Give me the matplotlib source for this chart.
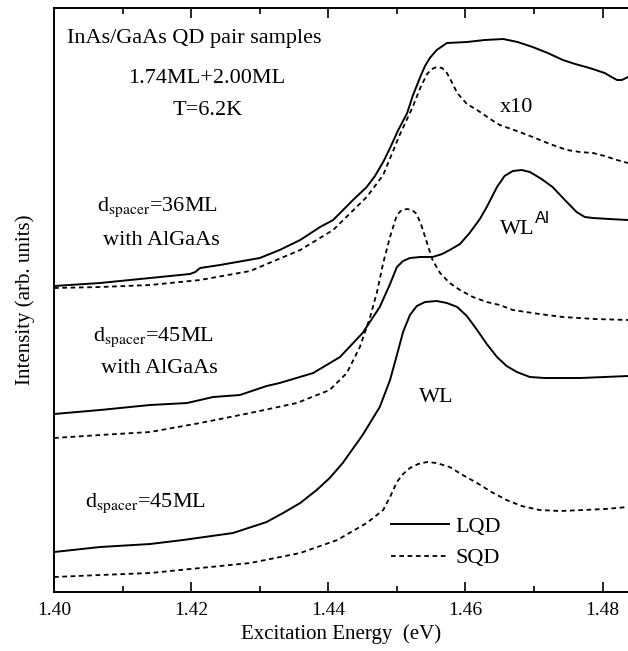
import numpy as np
import matplotlib
matplotlib.use("Agg")
import matplotlib.pyplot as plt
from matplotlib.ticker import MultipleLocator

plt.rcParams['font.family'] = ['Liberation Serif', 'DejaVu Serif']
plt.rcParams['mathtext.fontset'] = 'stix'

# d_spacer = 36ML with AlGaAs (top pair, SQD x10)
e_lqd36 = [1.4000, 1.4067, 1.4140, 1.4198, 1.4206, 1.4213, 1.4242, 1.4300, 1.4329, 1.4359,
           1.4388, 1.4407, 1.4436, 1.4456, 1.4468, 1.4480, 1.4490, 1.4502, 1.4515, 1.4523,
           1.4534, 1.4541, 1.4548, 1.4558, 1.4573, 1.4602, 1.4628, 1.4655, 1.4676, 1.4698,
           1.4720, 1.4742, 1.4760, 1.4781, 1.4803, 1.4813, 1.4821, 1.4828, 1.4837]
i_lqd36 = [3.06, 3.09, 3.14, 3.18, 3.20, 3.24, 3.27, 3.34, 3.42, 3.52,
           3.65, 3.72, 3.92, 4.05, 4.16, 4.30, 4.44, 4.62, 4.79, 4.96,
           5.15, 5.26, 5.34, 5.42, 5.49, 5.50, 5.52, 5.53, 5.50, 5.45,
           5.39, 5.32, 5.28, 5.24, 5.19, 5.15, 5.12, 5.12, 5.15]
e_sqd36 = [1.4000, 1.4067, 1.4140, 1.4213, 1.4286, 1.4359, 1.4407, 1.4456, 1.4480, 1.4504,
           1.4523, 1.4534, 1.4544, 1.4551, 1.4558, 1.4566, 1.4573, 1.4580, 1.4588, 1.4602,
           1.4617, 1.4636, 1.4650, 1.4675, 1.4698, 1.4723, 1.4748, 1.4767, 1.4786, 1.4803,
           1.4821, 1.4837]
i_sqd36 = [3.04, 3.05, 3.07, 3.12, 3.21, 3.42, 3.62, 3.95, 4.17, 4.57,
           4.85, 5.04, 5.18, 5.23, 5.25, 5.24, 5.19, 5.10, 4.99, 4.88,
           4.82, 4.73, 4.67, 4.61, 4.55, 4.48, 4.42, 4.40, 4.39, 4.36,
           4.32, 4.29]

# d_spacer = 45ML with AlGaAs (middle pair)
e_lqd45al = [1.4000, 1.4067, 1.4140, 1.4194, 1.4232, 1.4271, 1.4310, 1.4329, 1.4378, 1.4417,
             1.4450, 1.4475, 1.4490, 1.4500, 1.4509, 1.4519, 1.4534, 1.4552, 1.4566, 1.4577,
             1.4592, 1.4606, 1.4621, 1.4631, 1.4646, 1.4657, 1.4669, 1.4682, 1.4694, 1.4711,
             1.4727, 1.4745, 1.4762, 1.4774, 1.4786, 1.4810, 1.4837]
i_lqd45al = [1.78, 1.82, 1.87, 1.89, 1.95, 1.97, 2.06, 2.09, 2.19, 2.35,
             2.59, 2.85, 3.08, 3.25, 3.31, 3.34, 3.35, 3.35, 3.38, 3.42,
             3.48, 3.59, 3.73, 3.85, 4.05, 4.16, 4.21, 4.22, 4.20, 4.13,
             4.05, 3.92, 3.80, 3.75, 3.74, 3.73, 3.72]
e_sqd45al = [1.4000, 1.4067, 1.4140, 1.4213, 1.4286, 1.4354, 1.4402, 1.4427, 1.4446, 1.4461,
             1.4471, 1.4480, 1.4490, 1.4500, 1.4507, 1.4515, 1.4522, 1.4529, 1.4536, 1.4544,
             1.4552, 1.4563, 1.4577, 1.4592, 1.4611, 1.4631, 1.4650, 1.4669, 1.4708, 1.4742,
             1.4789, 1.4837]
i_sqd45al = [1.54, 1.57, 1.60, 1.69, 1.79, 1.89, 2.02, 2.19, 2.45, 2.75,
             3.00, 3.29, 3.55, 3.77, 3.82, 3.83, 3.82, 3.78, 3.66, 3.49,
             3.32, 3.19, 3.09, 3.02, 2.95, 2.90, 2.87, 2.82, 2.78, 2.75,
             2.73, 2.72]

# d_spacer = 45ML (bottom pair)
e_lqd45 = [1.4000, 1.4067, 1.4140, 1.4188, 1.4261, 1.4310, 1.4334, 1.4359, 1.4383, 1.4402,
           1.4421, 1.4450, 1.4475, 1.4490, 1.4500, 1.4509, 1.4519, 1.4529, 1.4541, 1.4558,
           1.4573, 1.4588, 1.4602, 1.4617, 1.4631, 1.4646, 1.4660, 1.4675, 1.4694, 1.4716,
           1.4767, 1.4837]
i_lqd45 = [0.40, 0.45, 0.48, 0.52, 0.59, 0.70, 0.79, 0.89, 1.02, 1.14,
           1.29, 1.57, 1.85, 2.12, 2.37, 2.60, 2.77, 2.86, 2.90, 2.91,
           2.89, 2.85, 2.76, 2.62, 2.48, 2.35, 2.26, 2.20, 2.15, 2.14,
           2.14, 2.16]
e_sqd45 = [1.4000, 1.4067, 1.4140, 1.4213, 1.4286, 1.4359, 1.4413, 1.4456, 1.4480, 1.4490,
           1.4500, 1.4509, 1.4519, 1.4531, 1.4544, 1.4558, 1.4577, 1.4596, 1.4617, 1.4638,
           1.4660, 1.4682, 1.4708, 1.4738, 1.4771, 1.4803, 1.4837]
i_sqd45 = [0.15, 0.17, 0.19, 0.24, 0.29, 0.39, 0.52, 0.69, 0.82, 0.95,
           1.10, 1.18, 1.24, 1.28, 1.30, 1.29, 1.25, 1.17, 1.09, 1.00,
           0.92, 0.86, 0.82, 0.81, 0.82, 0.83, 0.85]

xticks = [1.40, 1.42, 1.44, 1.46, 1.48]
xticklabels = ['1.40', '1.42', '1.44', '1.46', '1.48']

fig = plt.figure(figsize=(6.28, 6.51), dpi=100)
ax = fig.add_axes([0.086, 0.0906, 0.914, 0.8971])

solid = dict(color='black', lw=1.4, ls='-')
dash = dict(color='black', lw=1.3, ls=(0, (2.6, 2.0)))

ax.plot(e_lqd36, i_lqd36, **solid)
ax.plot(e_sqd36, i_sqd36, **dash)
ax.plot(e_lqd45al, i_lqd45al, **solid)
ax.plot(e_sqd45al, i_sqd45al, **dash)
l1, = ax.plot(e_lqd45, i_lqd45, **solid)
l2, = ax.plot(e_sqd45, i_sqd45, **dash)

ax.set_xlim(1.40, 1.4837)
ax.set_ylim(0, 5.84)
ax.set_xticks(xticks)
ax.set_xticklabels(xticklabels)
ax.xaxis.set_minor_locator(MultipleLocator(0.01))
ax.set_yticks([])
ax.tick_params(axis='x', which='both', direction='in', top=True, labelsize=14, pad=7)
ax.tick_params(axis='x', which='major', length=7, width=1.2)
ax.tick_params(axis='x', which='minor', length=4, width=1.2)
ax.spines['right'].set_visible(False)
for s in ['left', 'bottom', 'top']:
    ax.spines[s].set_linewidth(1.4)

ax.set_xlabel('Excitation Energy  (eV)', fontsize=15, labelpad=4)
ax.set_ylabel('Intensity (arb. units)', fontsize=15, labelpad=14)

fs = 16
ax.text(1.4019, 5.54, 'InAs/GaAs QD pair samples', fontsize=fs, ha='left', va='center')
ax.text(1.4223, 5.14, '1.74ML+2.00ML', fontsize=fs, ha='center', va='center')
ax.text(1.4224, 4.82, 'T=6.2K', fontsize=fs, ha='center', va='center')
ax.text(1.4675, 4.85, 'x10', fontsize=fs, ha='center', va='center')

ax.text(1.4063, 3.85, r'd$_{\mathrm{spacer}}$=36ML', fontsize=fs, ha='left', va='center')
ax.text(1.4157, 3.52, 'with AlGaAs', fontsize=fs, ha='center', va='center')
ax.text(1.4057, 2.55, r'd$_{\mathrm{spacer}}$=45ML', fontsize=fs, ha='left', va='center')
ax.text(1.4153, 2.24, 'with AlGaAs', fontsize=fs, ha='center', va='center')
ax.text(1.4045, 0.89, r'd$_{\mathrm{spacer}}$=45ML', fontsize=fs, ha='left', va='center')

ax.text(1.4650, 3.63, 'WL', fontsize=fs, ha='left', va='center')
ax.text(1.4702, 3.74, 'Al', fontsize=12, ha='left', va='center', family='Liberation Sans')
ax.text(1.4558, 1.95, 'WL', fontsize=fs, ha='center', va='center')

ax.legend([l1, l2], ['LQD', 'SQD'], loc='upper left', bbox_to_anchor=(0.587, 0.13),
          frameon=False, fontsize=fs, handlelength=2.6, handletextpad=0.3,
          labelspacing=0.5, borderpad=0, borderaxespad=0)

fig.savefig('out.png', dpi=100)
